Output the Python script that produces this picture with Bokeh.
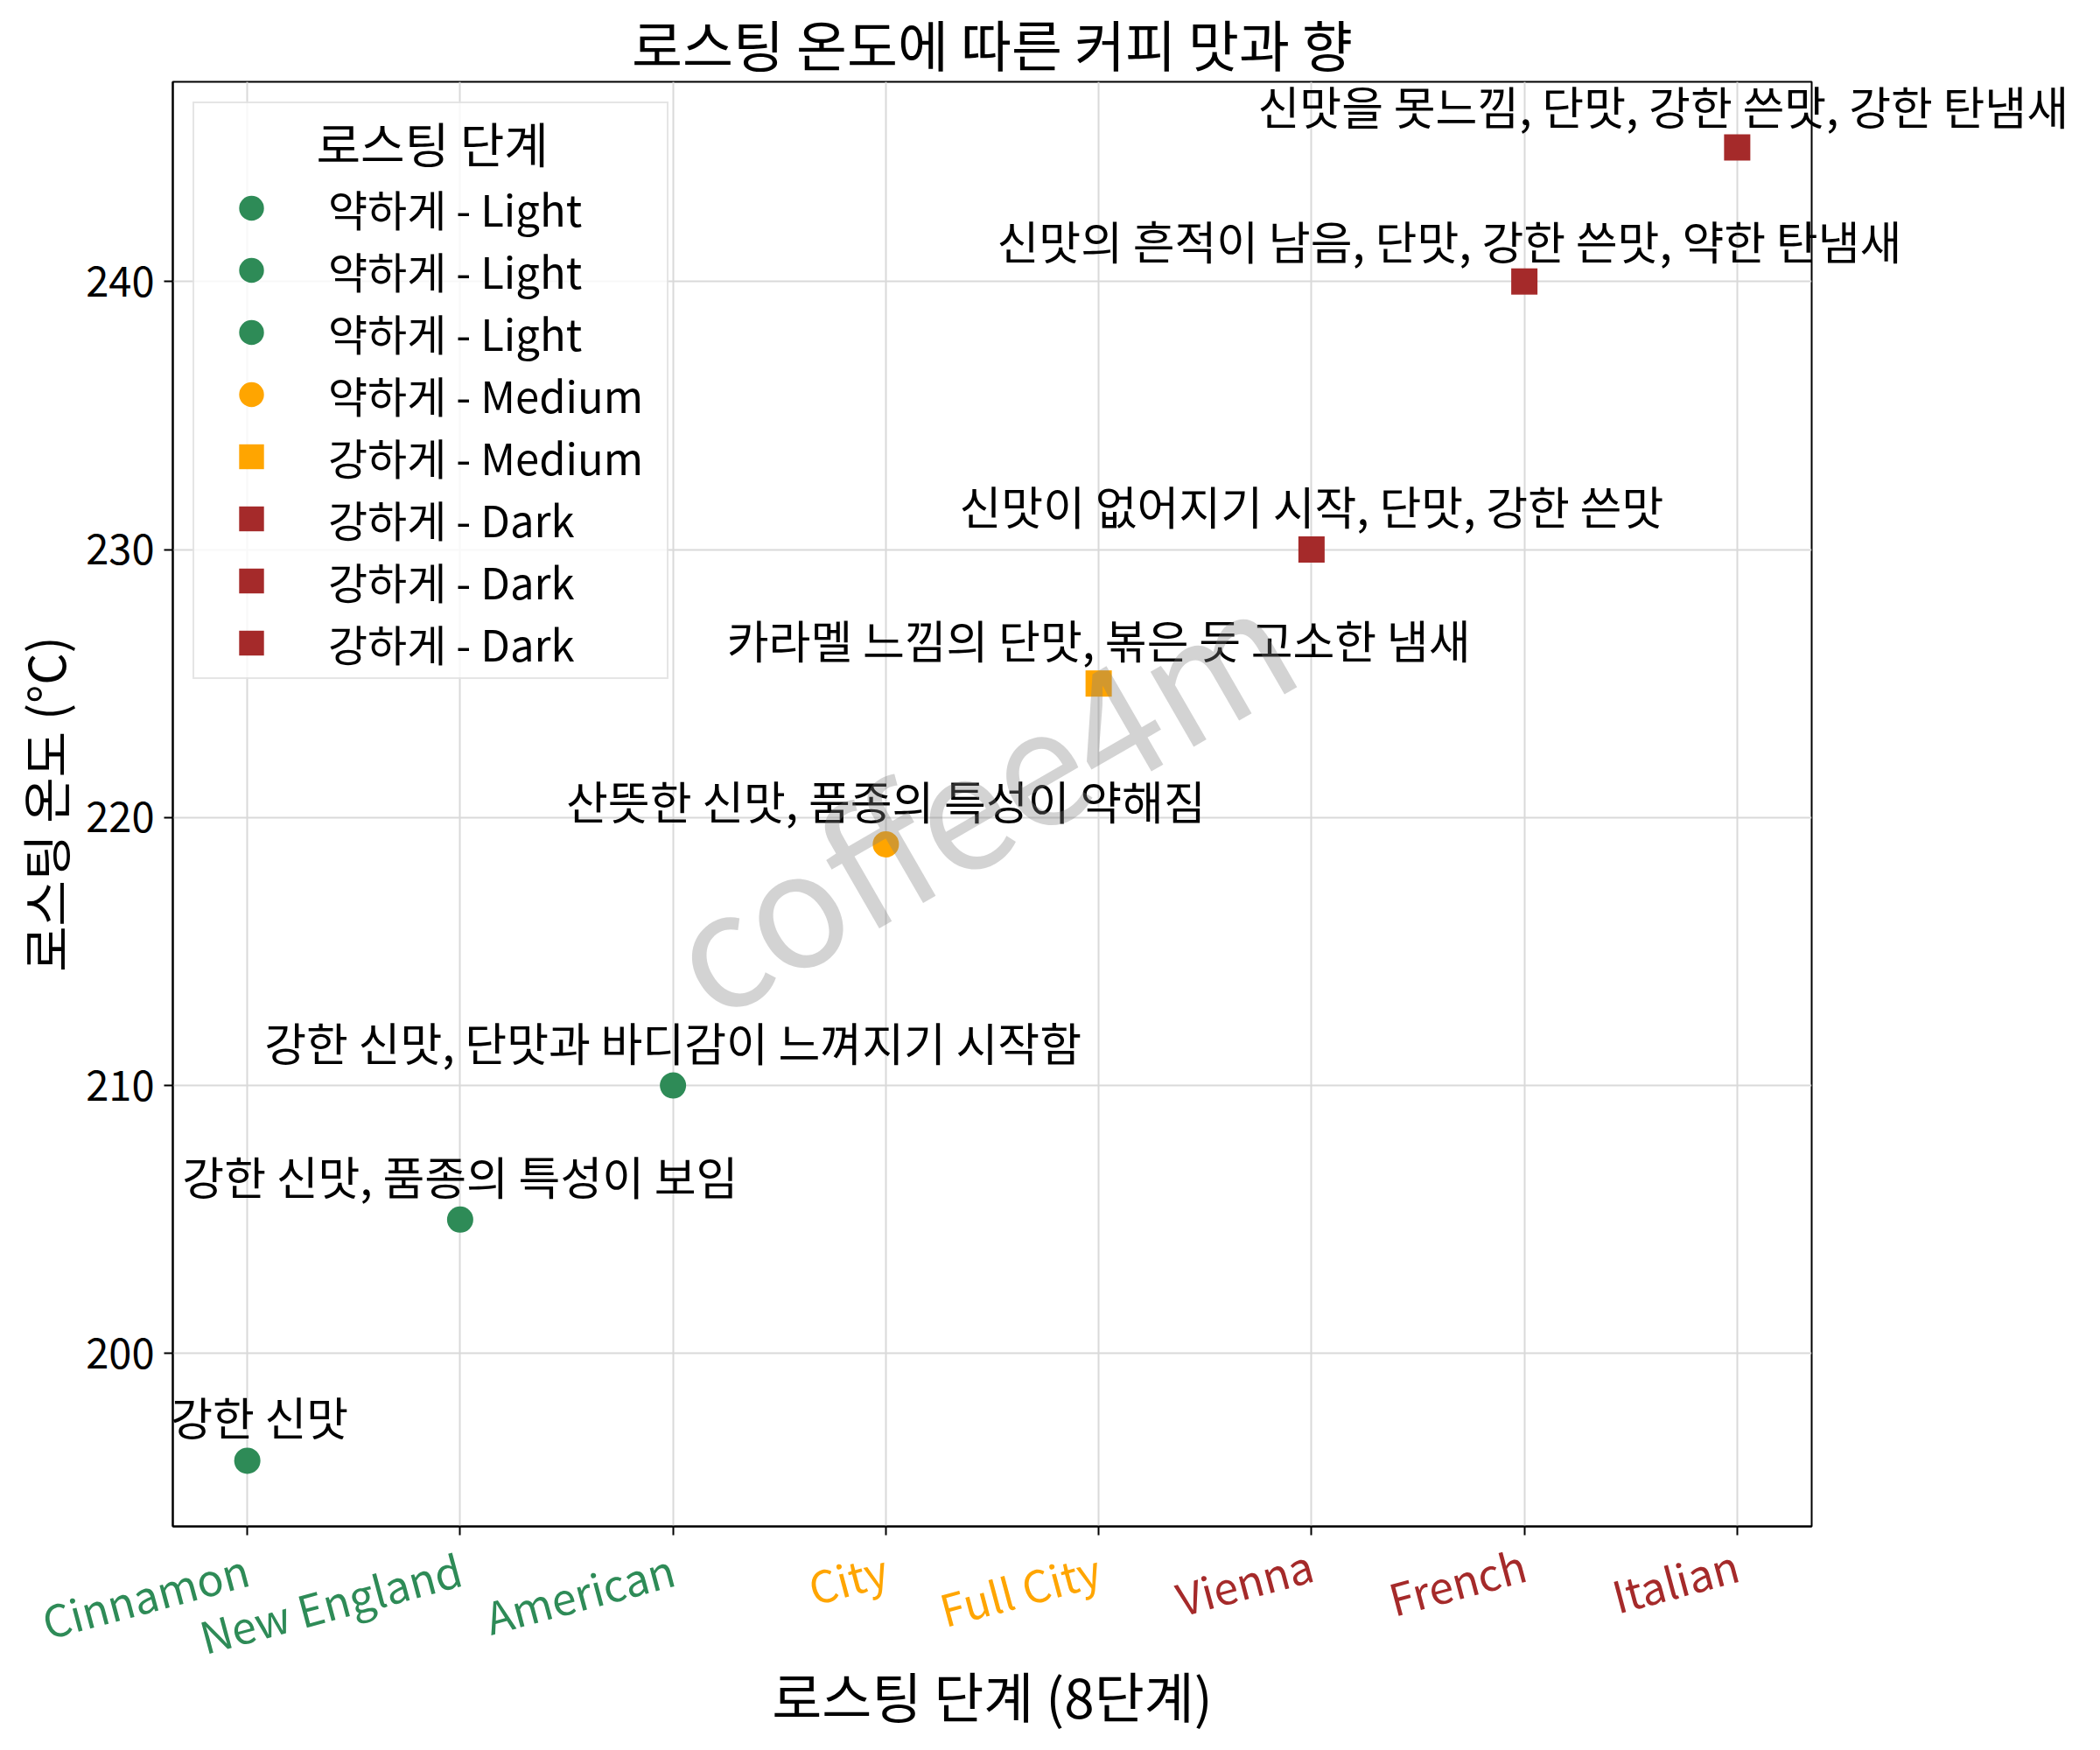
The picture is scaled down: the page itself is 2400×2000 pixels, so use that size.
import math
from bokeh.plotting import figure
from bokeh.models import (ColumnDataSource, Range1d, FixedTicker, Label,
                          Legend, LegendItem, LinearAxis)
from bokeh.embed import file_html
from bokeh.resources import INLINE

# ---------------- data ----------------
chart_title = "로스팅 온도에 따른 커피 맛과 향"
x_axis_label = "로스팅 단계 (8단계)"
y_axis_label = "로스팅 온도 (°C)"
legend_title = "로스팅 단계"
watermark_text = "coffee4m"

categories = ["Cinnamon", "New England", "American", "City",
              "Full City", "Vienna", "French", "Italian"]
temperatures = [196, 205, 210, 219, 225, 230, 240, 245]
strengths = ["약하게", "약하게", "약하게", "약하게",
             "강하게", "강하게", "강하게", "강하게"]
levels = ["Light", "Light", "Light", "Medium",
          "Medium", "Dark", "Dark", "Dark"]
descriptions = [
    "강한 신맛",
    "강한 신맛, 품종의 특성이 보임",
    "강한 신맛, 단맛과 바디감이 느껴지기 시작함",
    "산뜻한 신맛, 품종의 특성이 약해짐",
    "카라멜 느낌의 단맛, 볶은 듯 고소한 냄새",
    "신맛이 없어지기 시작, 단맛, 강한 쓴맛",
    "신맛의 흔적이 남음, 단맛, 강한 쓴맛, 약한 탄냄새",
    "신맛을 못느낌, 단맛, 강한 쓴맛, 강한 탄냄새",
]
y_ticks = [200, 210, 220, 230, 240]

level_colors = {"Light": "#2E8B57", "Medium": "#FFA500", "Dark": "#A52A2A"}
strength_markers = {"약하게": "circle", "강하게": "square"}

# ---------------- layout / style constants ----------------
FONT = "Noto Sans CJK KR"
W, H = 2384, 1984
B_LEFT, B_RIGHT, B_TOP, B_BOTTOM = 197, 314, 90, 230
FRAME_W = W - B_LEFT - B_RIGHT
FRAME_H = H - B_TOP - B_BOTTOM
ANN_FONT = "52px"
ANN_LIFT = 48            # px between a point and the middle of its note
ANN_DX = [14, 0, 0, 0, 0, 0, -83, -83]   # horizontal nudge of each note, px
ANN_WIDTH = {6: 1039, 7: 930}            # approx. rendered widths of long notes
TICK_FONT = "50px"
TICK_STANDOFF = 31
TICK_EXTENT = {"Dark": 109, "Medium": 121, "Light": 140}  # approx. rotated heights
X_LABEL_GAP = 130        # px from frame bottom to the top of the x-axis title

# ---------------- figure ----------------
n = len(categories)
xs = list(range(n))
x_pad = 0.05 * (n - 1)
y_min, y_max = min(temperatures), max(temperatures)
y_pad = 0.05 * (y_max - y_min)
x_range = Range1d(-x_pad, n - 1 + x_pad)
y_range = Range1d(y_min - y_pad, y_max + y_pad)

p = figure(width=W, height=H, x_range=x_range, y_range=y_range,
           output_backend="svg", toolbar_location=None, title=chart_title,
           min_border_left=B_LEFT, min_border_right=B_RIGHT,
           min_border_top=B_TOP, min_border_bottom=B_BOTTOM)

p.title.text_font = FONT
p.title.text_font_size = "63px"
p.title.text_font_style = "normal"
p.title.text_color = "black"
p.title.align = "center"
p.title.standoff = 0

p.outline_line_color = "black"
p.outline_line_width = 2
p.grid.grid_line_color = "#d9d9d9"
p.grid.grid_line_width = 2

xa = p.xaxis[0]
ya = p.yaxis[0]
for ax in (xa, ya):
    ax.axis_line_color = "black"
    ax.axis_line_width = 2
    ax.major_tick_line_color = "black"
    ax.major_tick_line_width = 2
    ax.major_tick_out = 10
    ax.major_tick_in = 0
    ax.minor_tick_line_color = None

ya.ticker = FixedTicker(ticks=y_ticks)
ya.major_label_text_font = FONT
ya.major_label_text_font_size = "47px"
ya.major_label_text_color = "black"
ya.major_label_standoff = 11
ya.axis_label = y_axis_label
ya.axis_label_text_font = FONT
ya.axis_label_text_font_style = "normal"
ya.axis_label_text_color = "black"
ya.axis_label_text_font_size = "57px"
ya.axis_label_standoff = 4


def label_only_axis(extra, ticks, texts, color, size, standoff, orientation):
    return LinearAxis(ticker=FixedTicker(ticks=ticks),
                      major_label_overrides=dict(zip(ticks, texts)),
                      axis_line_color=None, major_tick_line_color=None,
                      minor_tick_line_color=None, major_tick_out=0, major_tick_in=0,
                      major_label_standoff=standoff,
                      major_label_orientation=orientation,
                      major_label_text_font=FONT, major_label_text_font_size=size,
                      major_label_text_color=color, **extra)


# ---- coloured, rotated category labels: one x axis per roast level ----
# the axes are stacked below the frame; negative standoffs pull every set of
# labels back to the same distance from the frame.
groups = list(dict.fromkeys(levels))
groups.sort(key=lambda g: max(len(c) for c, l in zip(categories, levels) if l == g))
prev_extent = None
for k, lvl in enumerate(groups):
    texts = [c if l == lvl else "" for c, l in zip(categories, levels)]
    if k == 0:
        ax = xa
        ax.ticker = FixedTicker(ticks=xs)
        ax.major_label_overrides = dict(zip(xs, texts))
        ax.major_label_standoff = TICK_STANDOFF
        ax.major_label_orientation = math.radians(15)
        ax.major_label_text_font = FONT
        ax.major_label_text_font_size = TICK_FONT
        ax.major_label_text_color = level_colors[lvl]
    else:
        idx = [i for i in xs if levels[i] == lvl]
        ax = label_only_axis({}, idx, [categories[i] for i in idx],
                             level_colors[lvl], TICK_FONT, -prev_extent,
                             math.radians(15))
        p.add_layout(ax, "below")
    prev_extent = TICK_EXTENT[lvl]
    last_axis = ax

last_axis.axis_label = x_axis_label
last_axis.axis_label_text_font = FONT
last_axis.axis_label_text_font_style = "normal"
last_axis.axis_label_text_color = "black"
last_axis.axis_label_text_font_size = "62px"
last_axis.axis_label_standoff = X_LABEL_GAP - 10 - TICK_STANDOFF - TICK_EXTENT[groups[-1]]

# ---------------- points + legend ----------------
items = []
for i in range(n):
    src = ColumnDataSource(dict(x=[xs[i]], y=[temperatures[i]]))
    r = p.scatter("x", "y", source=src, marker=strength_markers[strengths[i]],
                  size=30, fill_color=level_colors[levels[i]], line_color=None)
    items.append(LegendItem(label=f"{strengths[i]} - {levels[i]}", renderers=[r]))

# ---------------- notes above the points ----------------
# notes that fit inside the frame are plain labels; the two long ones that run
# past the right edge are carried by right-hand axes on a lifted copy of the
# y range, so that they are not clipped by the frame.
lift = ANN_LIFT * (y_range.end - y_range.start) / FRAME_H
p.extra_y_ranges = {"notes": Range1d(y_range.start - lift, y_range.end - lift)}


def x_px(x):
    return B_LEFT + (x - x_range.start) / (x_range.end - x_range.start) * FRAME_W


for i in range(n):
    if i in ANN_WIDTH:
        continue
    p.add_layout(Label(x=xs[i], y=temperatures[i], text=descriptions[i],
                       x_offset=ANN_DX[i], y_offset=13,
                       text_align="center", text_baseline="bottom",
                       text_font=FONT, text_font_size=ANN_FONT, text_color="black"))

panel_pos = B_LEFT + FRAME_W
for i in sorted(ANN_WIDTH, reverse=True):
    start = x_px(xs[i]) + ANN_DX[i] - ANN_WIDTH[i] / 2
    standoff = int(round(start - panel_pos))
    p.add_layout(label_only_axis({"y_range_name": "notes"}, [temperatures[i]],
                                 [descriptions[i]], "black", ANN_FONT, standoff,
                                 "horizontal"), "right")
    panel_pos += standoff + ANN_WIDTH[i]

legend = Legend(items=items, location="top_left", margin=23, padding=4,
                title="\u00a0" * 11 + legend_title, title_text_font=FONT,
                title_text_font_size="55px", title_text_font_style="normal",
                title_text_color="black", title_standoff=0,
                label_text_font=FONT, label_text_font_size="49px",
                label_text_color="black", label_width=383,
                label_standoff=27, glyph_width=122, glyph_height=71,
                label_height=71, spacing=0,
                border_line_color="#cccccc", border_line_width=2,
                background_fill_alpha=0.8)
p.add_layout(legend)

# watermark
p.add_layout(Label(x=(x_range.start + x_range.end) / 2,
                   y=(y_range.start + y_range.end) / 2,
                   x_offset=-18, y_offset=14,
                   text=watermark_text, angle=math.radians(30),
                   text_align="center", text_baseline="middle",
                   text_font=FONT, text_font_size="182px",
                   text_color="gray", text_alpha=0.35))

open("out.html", "w", encoding="utf-8").write(file_html(p, INLINE))
